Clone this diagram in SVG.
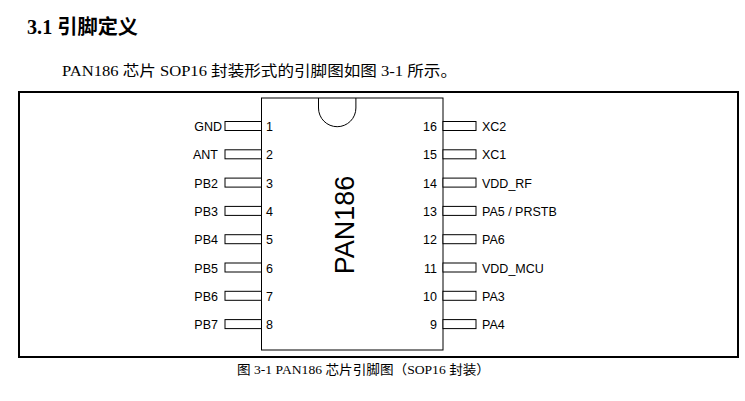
<svg xmlns="http://www.w3.org/2000/svg" width="745" height="401" viewBox="0 0 745 401">
<style>
.s{font-family:"Liberation Serif","Noto Sans CJK SC",serif;fill:#000}
.a{font-family:"Liberation Sans",Arial,sans-serif;font-size:12.5px;fill:#000}
.p{fill:#fff;stroke:#000;stroke-width:1}
</style>
<rect width="745" height="401" fill="#fff"/>
<text class="s" x="27" y="34" font-size="20" font-weight="bold" textLength="111" lengthAdjust="spacingAndGlyphs">3.1 引脚定义</text>
<text class="s" x="62" y="76" font-size="15" textLength="395" lengthAdjust="spacingAndGlyphs">PAN186 芯片 SOP16 封装形式的引脚图如图  3-1 所示。</text>
<rect x="19" y="92" width="719" height="265" fill="none" stroke="#000" stroke-width="2"/>
<g id="chip">
<rect x="261.5" y="98" width="181.5" height="252" fill="#fff" stroke="#000" stroke-width="1"/>
<path d="M318.5 98 V108 A18.7 18.7 0 0 0 355.9 108 V98" fill="none" stroke="#000"/>
<text transform="translate(354 225) rotate(-90)" text-anchor="middle" style="font-family:'Liberation Sans',Arial,sans-serif;font-size:27px">PAN186</text>
</g>
<g id="pins-left">
<g id="p1"><rect class="p" x="225" y="121.5" width="36.5" height="9"/><text class="a" x="222" y="131" text-anchor="end">GND</text><text class="a" x="266" y="131">1</text></g>
<g id="p2"><rect class="p" x="225" y="149.8" width="36.5" height="9"/><text class="a" x="218" y="159.3" text-anchor="end">ANT</text><text class="a" x="266" y="159.3">2</text></g>
<g id="p3"><rect class="p" x="225" y="178.1" width="36.5" height="9"/><text class="a" x="218" y="187.6" text-anchor="end">PB2</text><text class="a" x="266" y="187.6">3</text></g>
<g id="p4"><rect class="p" x="225" y="206.4" width="36.5" height="9"/><text class="a" x="218" y="215.9" text-anchor="end">PB3</text><text class="a" x="266" y="215.9">4</text></g>
<g id="p5"><rect class="p" x="225" y="234.7" width="36.5" height="9"/><text class="a" x="218" y="244.2" text-anchor="end">PB4</text><text class="a" x="266" y="244.2">5</text></g>
<g id="p6"><rect class="p" x="225" y="263" width="36.5" height="9"/><text class="a" x="218" y="272.5" text-anchor="end">PB5</text><text class="a" x="266" y="272.5">6</text></g>
<g id="p7"><rect class="p" x="225" y="291.3" width="36.5" height="9"/><text class="a" x="218" y="300.8" text-anchor="end">PB6</text><text class="a" x="266" y="300.8">7</text></g>
<g id="p8"><rect class="p" x="225" y="319.6" width="36.5" height="9"/><text class="a" x="218" y="329.1" text-anchor="end">PB7</text><text class="a" x="266" y="329.1">8</text></g>
</g>
<g id="pins-right">
<g id="p16"><rect class="p" x="443" y="121.5" width="33" height="9"/><text class="a" x="437" y="131" text-anchor="end">16</text><text class="a" x="482" y="131">XC2</text></g>
<g id="p15"><rect class="p" x="443" y="149.8" width="33" height="9"/><text class="a" x="437" y="159.3" text-anchor="end">15</text><text class="a" x="482" y="159.3">XC1</text></g>
<g id="p14"><rect class="p" x="443" y="178.1" width="33" height="9"/><text class="a" x="437" y="187.6" text-anchor="end">14</text><text class="a" x="482" y="187.6">VDD_RF</text></g>
<g id="p13"><rect class="p" x="443" y="206.4" width="33" height="9"/><text class="a" x="437" y="215.9" text-anchor="end">13</text><text class="a" x="482" y="215.9">PA5 / PRSTB</text></g>
<g id="p12"><rect class="p" x="443" y="234.7" width="33" height="9"/><text class="a" x="437" y="244.2" text-anchor="end">12</text><text class="a" x="482" y="244.2">PA6</text></g>
<g id="p11"><rect class="p" x="443" y="263" width="33" height="9"/><text class="a" x="437" y="272.5" text-anchor="end">11</text><text class="a" x="482" y="272.5">VDD_MCU</text></g>
<g id="p10"><rect class="p" x="443" y="291.3" width="33" height="9"/><text class="a" x="437" y="300.8" text-anchor="end">10</text><text class="a" x="482" y="300.8">PA3</text></g>
<g id="p9"><rect class="p" x="443" y="319.6" width="33" height="9"/><text class="a" x="437" y="329.1" text-anchor="end">9</text><text class="a" x="482" y="329.1">PA4</text></g>
</g>
<g id="connectors"/>
<text class="s" x="237" y="374" font-size="13" textLength="253" lengthAdjust="spacingAndGlyphs">图  3-1 PAN186 芯片引脚图（SOP16 封装）</text>
</svg>
